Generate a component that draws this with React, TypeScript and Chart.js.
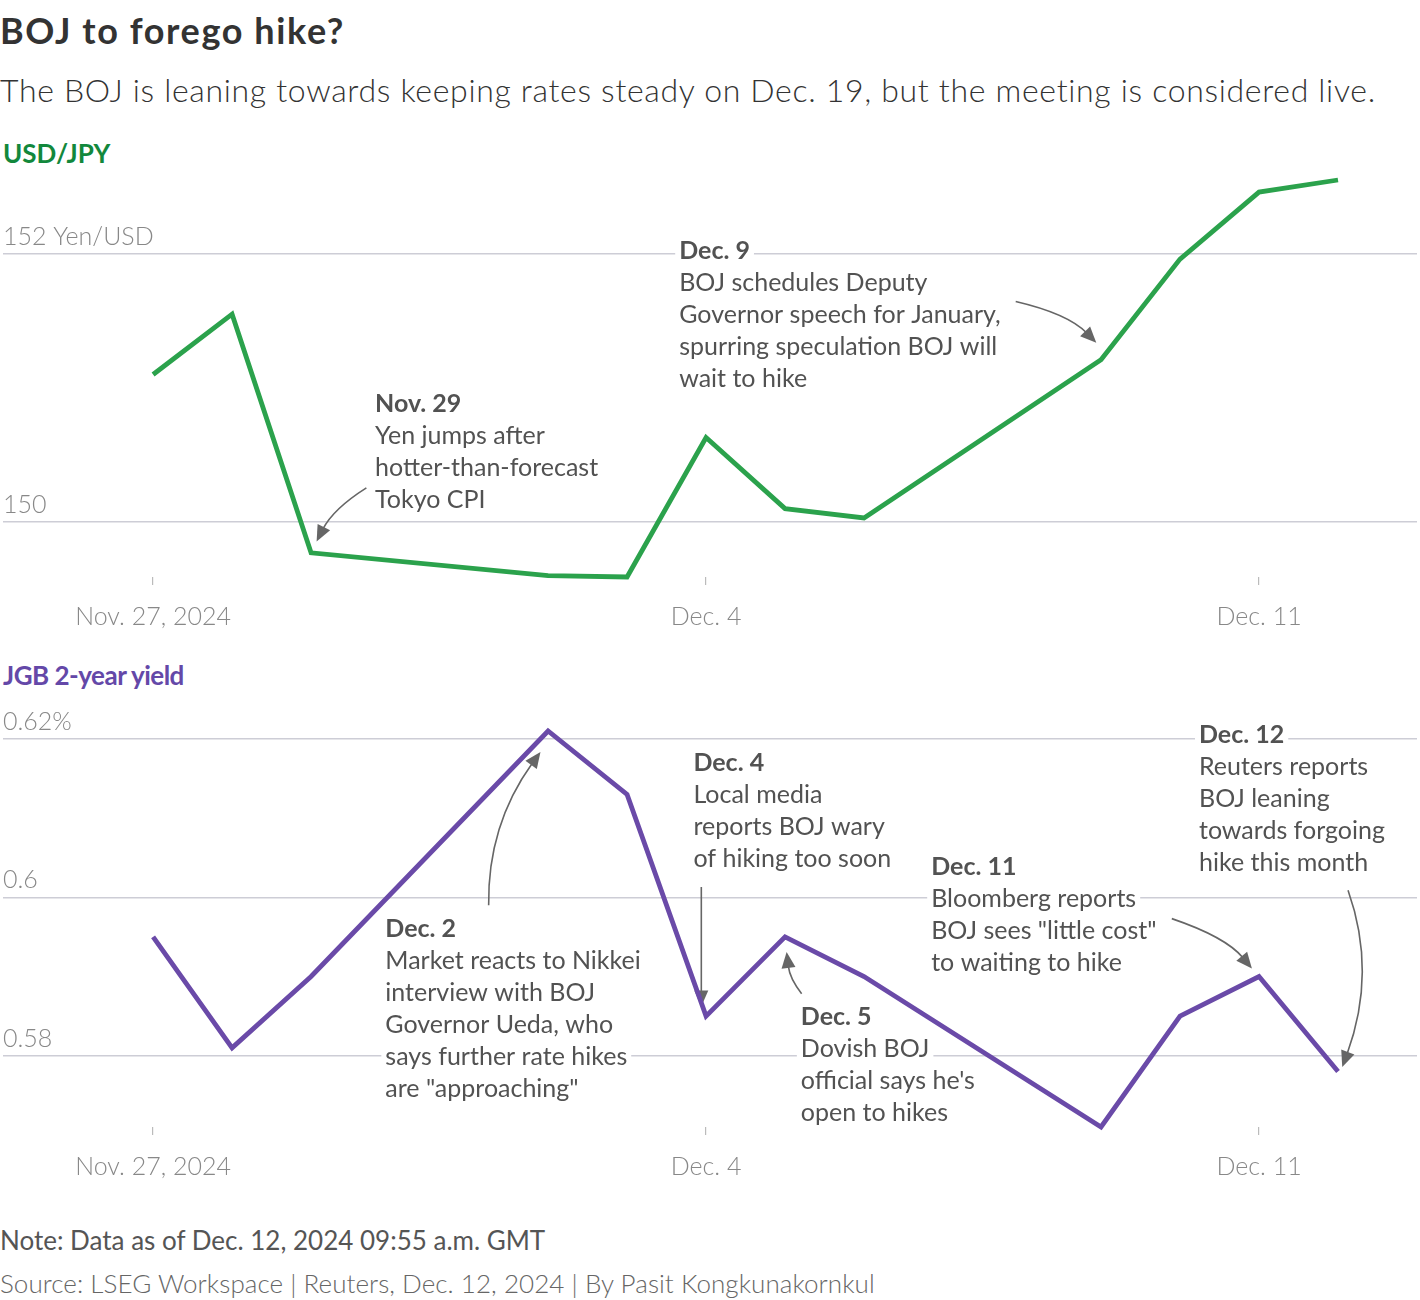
import React, { useEffect, useRef } from "react";
import { Chart, registerables } from "chart.js";

Chart.register(...registerables);

// ---------- data ----------
const dayOffsets = [0, 1, 2, 5, 6, 7, 8, 9, 12, 13, 14, 15]; // days since Nov. 27, 2024
const dateLabels = ["Nov. 27", "Nov. 28", "Nov. 29", "Dec. 2", "Dec. 3", "Dec. 4", "Dec. 5", "Dec. 6", "Dec. 9", "Dec. 10", "Dec. 11", "Dec. 12"];
const usdJpy = [151.10, 151.55, 149.77, 149.60, 149.59, 150.63, 150.10, 150.03, 151.21, 151.96, 152.46, 152.55];
const jgb2y = [0.595, 0.581, 0.590, 0.621, 0.613, 0.585, 0.595, 0.590, 0.571, 0.585, 0.590, 0.578];

const xTickDays = [0, 7, 14];
const xTickLabels = ["Nov. 27, 2024", "Dec. 4", "Dec. 11"];
const xRange = [-1.9, 16.0];

const usdTicks = [150, 152];
const usdTickLabels = ["150", "152 Yen/USD"];
const jgbTicks = [0.58, 0.6, 0.62];
const jgbTickLabels = ["0.58", "0.6", "0.62%"];

// annotations: text anchor (day, value of first line), arrow [start, control, end] in data units
type Note = { x: number; y: number; head: string; lines: string[]; arrow: number[][] };
const usdNotes: Note[] = [
  {
    x: 2.81, y: 150.881, head: "Nov. 29",
    lines: ["Yen jumps after", "hotter-than-forecast", "Tokyo CPI"],
    arrow: [[2.70, 150.255], [2.28, 150.098], [2.07, 149.855]],
  },
  {
    x: 6.66, y: 152.022, head: "Dec. 9",
    lines: ["BOJ schedules Deputy", "Governor speech for January,", "spurring speculation BOJ will", "wait to hike"],
    arrow: [[10.92, 151.644], [11.58, 151.553], [11.94, 151.336]],
  },
];
const jgbNotes: Note[] = [
  {
    x: 2.94, y: 0.5960, head: "Dec. 2",
    lines: ["Market reacts to Nikkei", "interview with BOJ", "Governor Ueda, who", "says further rate hikes", "are \"approaching\""],
    arrow: [[4.248, 0.59899], [4.234, 0.60909], [4.904, 0.61835]],
  },
  {
    x: 6.84, y: 0.61692, head: "Dec. 4",
    lines: ["Local media", "reports BOJ wary", "of hiking too soon"],
    arrow: [[6.94, 0.6013], [6.94, 0.594], [6.94, 0.5862]],
  },
  {
    x: 8.20, y: 0.58485, head: "Dec. 5",
    lines: ["Dovish BOJ", "official says he's", "open to hikes"],
    arrow: [[8.21, 0.58784], [8.06, 0.58972], [8.02, 0.59309]],
  },
  {
    x: 9.85, y: 0.60379, head: "Dec. 11",
    lines: ["Bloomberg reports", "BOJ sees \"little cost\"", "to waiting to hike"],
    arrow: [[12.896, 0.59731], [13.58, 0.59499], [13.91, 0.591]],
  },
  {
    x: 13.24, y: 0.62045, head: "Dec. 12",
    lines: ["Reuters reports", "BOJ leaning", "towards forgoing", "hike this month"],
    arrow: [[15.127, 0.60088], [15.494, 0.59053], [15.054, 0.57857]],
  },
];

// ---------- styles ----------
const FONT = "Lato";
const LINE_H = 32;
const NOTE_COLOR = "#525252";
const ARROW_COLOR = "#666666";
const GRID_COLOR = "#cdcdd6";

function notesPlugin(notes: Note[]) {
  return {
    id: "notes",
    beforeDatasetsDraw(chart: any) {
      const { ctx } = chart;
      const x = chart.scales.x;
      const y = chart.scales.y;
      ctx.save();
      notes.forEach((n) => {
        const px = x.getPixelForValue(n.x);
        const py = y.getPixelForValue(n.y);
        const rows = [n.head, ...n.lines];
        rows.forEach((t, i) => {
          ctx.font = `${i === 0 ? 700 : 400} 25px ${FONT}`;
          const w = ctx.measureText(t).width;
          const cy = py + i * LINE_H;
          ctx.fillStyle = "#ffffff";
          ctx.fillRect(px - 4, cy - 14, w + 8, 28);
          ctx.fillStyle = NOTE_COLOR;
          ctx.textBaseline = "middle";
          ctx.textAlign = "left";
          ctx.fillText(t, px, cy);
        });
        const pts = n.arrow.map(([a, b]) => [x.getPixelForValue(a), y.getPixelForValue(b)]);
        const [s, c, e] = pts;
        const ang = Math.atan2(e[1] - c[1], e[0] - c[0]);
        const L = 16, W = 7;
        const bx = e[0] - Math.cos(ang) * (L - 2);
        const by = e[1] - Math.sin(ang) * (L - 2);
        ctx.strokeStyle = ARROW_COLOR;
        ctx.lineWidth = 1.6;
        ctx.beginPath();
        ctx.moveTo(s[0], s[1]);
        ctx.quadraticCurveTo(c[0], c[1], bx, by);
        ctx.stroke();
        ctx.fillStyle = ARROW_COLOR;
        ctx.beginPath();
        ctx.moveTo(e[0], e[1]);
        ctx.lineTo(e[0] - Math.cos(ang) * L - Math.sin(ang) * W, e[1] - Math.sin(ang) * L + Math.cos(ang) * W);
        ctx.lineTo(e[0] - Math.cos(ang) * L + Math.sin(ang) * W, e[1] - Math.sin(ang) * L - Math.cos(ang) * W);
        ctx.closePath();
        ctx.fill();
      });
      ctx.restore();
    },
  };
}

function makeConfig(values: number[], color: string, yTicks: number[], yLabels: string[], notes: Note[], padTop: number): any {
  return {
    type: "line",
    data: {
      labels: dateLabels,
      datasets: [
        {
          data: dayOffsets.map((d, i) => ({ x: d, y: values[i] })),
          borderColor: color,
          borderWidth: 4.8,
          pointRadius: 0,
          tension: 0,
          fill: false,
          clip: false,
        },
      ],
    },
    options: {
      animation: false,
      responsive: false,
      maintainAspectRatio: false,
      layout: { padding: { top: padTop, left: 3, right: 3, bottom: 0 } },
      plugins: { legend: { display: false }, tooltip: { enabled: false } },
      scales: {
        x: {
          type: "linear",
          min: xRange[0],
          max: xRange[1],
          afterBuildTicks: (s: any) => {
            s.ticks = xTickDays.map((v) => ({ value: v }));
          },
          afterFit: (s: any) => {
            s.height = 73;
          },
          ticks: {
            autoSkip: false,
            maxRotation: 0,
            padding: 17,
            color: "#888888",
            font: { family: FONT, size: 25, weight: "300" },
            callback: (v: number) => xTickLabels[xTickDays.indexOf(v)],
          },
          grid: { drawOnChartArea: false, drawTicks: true, tickLength: 8, color: "#bbbbbb", lineWidth: 1.2 },
          border: { display: false },
        },
        y: {
          type: "linear",
          bounds: "data",
          afterBuildTicks: (s: any) => {
            s.ticks = yTicks.map((v) => ({ value: v }));
          },
          afterFit: (s: any) => {
            s.width = 0;
          },
          ticks: {
            mirror: true,
            padding: 0,
            labelOffset: -17,
            color: "#888888",
            font: { family: FONT, size: 25, weight: "300" },
            callback: (v: number) => yLabels[yTicks.indexOf(v)],
          },
          grid: { drawTicks: false, color: GRID_COLOR, lineWidth: 1.5 },
          border: { display: false },
        },
      },
    },
    plugins: [notesPlugin(notes)],
  };
}

function Panel(props: { top: number; height: number; cfg: () => any }) {
  const ref = useRef<HTMLCanvasElement | null>(null);
  useEffect(() => {
    if (!ref.current) return;
    const chart = new Chart(ref.current, props.cfg());
    return () => chart.destroy();
  }, []);
  return (
    <canvas
      ref={ref}
      width={1420}
      height={props.height}
      style={{ position: "absolute", left: 0, top: props.top, width: 1420, height: props.height }}
    />
  );
}

const txt = (top: number, size: number, weight: number, color: string, extra: any = {}) => ({
  position: "absolute" as const,
  left: 0,
  top,
  fontFamily: FONT,
  fontSize: size,
  fontWeight: weight,
  color,
  lineHeight: 1,
  whiteSpace: "nowrap" as const,
  margin: 0,
  ...extra,
});

export default function App() {
  return (
    <div style={{ position: "absolute", left: 0, top: 0, width: 1420, height: 1300, background: "#fff", overflow: "hidden" }}>
      <div style={txt(12, 36, 700, "#333333", { letterSpacing: 1.6 })}>BOJ to forego hike?</div>
      <div style={txt(74, 32, 300, "#333333", { letterSpacing: 0.68 })}>The BOJ is leaning towards keeping rates steady on Dec. 19, but the meeting is considered live.</div>
      <div style={txt(140, 26, 700, "#12883c", { left: 3 })}>USD/JPY</div>
      <div style={txt(662, 26, 700, "#6448a8", { left: 3, letterSpacing: -0.5 })}>JGB 2-year yield</div>
      <Panel top={160} height={490} cfg={() => makeConfig(usdJpy, "#2ba24c", usdTicks, usdTickLabels, usdNotes, 20)} />
      <Panel top={700} height={500} cfg={() => makeConfig(jgb2y, "#6a4aa8", jgbTicks, jgbTickLabels, jgbNotes, 31)} />
      <div style={txt(1227, 26, 400, "#555555")}>Note: Data as of Dec. 12, 2024 09:55 a.m. GMT</div>
      <div style={txt(1270, 26, 300, "#666666", { letterSpacing: 0.05 })}>Source: LSEG Workspace | Reuters, Dec. 12, 2024 | By Pasit Kongkunakornkul</div>
    </div>
  );
}
